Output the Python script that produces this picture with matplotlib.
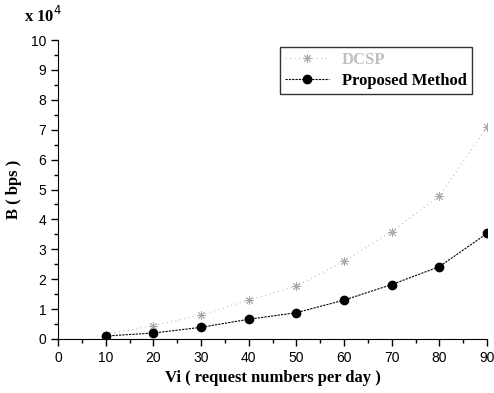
import matplotlib.pyplot as plt
from matplotlib.ticker import MultipleLocator

vi = [10, 20, 30, 40, 50, 60, 70, 80, 90]
dcsp = [0.15, 0.45, 0.8, 1.3, 1.77, 2.6, 3.59, 4.78, 7.09]
proposed = [0.1, 0.2, 0.39, 0.66, 0.88, 1.3, 1.82, 2.42, 3.53]

serif = "Liberation Serif"
sans = "Liberation Sans"

fig = plt.figure(figsize=(4.94, 3.93), dpi=100)
ax = fig.add_axes([58 / 494, 1 - 339 / 393, (487 - 58) / 494, (339 - 40) / 393])

ax.plot(vi, dcsp, color="#bdbdbd", linestyle=(0, (1, 3)), linewidth=0.8,
        marker=(8, 2, 0), markersize=6, markeredgewidth=0.7,
        markeredgecolor="#a8a8a8", label="DCSP")
ax.plot(vi, proposed, color="black", linestyle=(0, (2, 1)), linewidth=0.8,
        marker="o", markersize=6, label="Proposed Method")

ax.set_xlim(0, 90)
ax.set_ylim(0, 10)
ax.xaxis.set_major_locator(MultipleLocator(10))
ax.xaxis.set_minor_locator(MultipleLocator(5))
ax.yaxis.set_major_locator(MultipleLocator(1))
ax.yaxis.set_minor_locator(MultipleLocator(0.5))
ax.spines["top"].set_visible(False)
ax.spines["right"].set_visible(False)
ax.tick_params(which="major", direction="out", length=5, width=1,
               labelsize=10)
ax.tick_params(which="minor", direction="out", length=3, width=1)
for lab in ax.get_xticklabels() + ax.get_yticklabels():
    lab.set_fontfamily(sans)

ax.set_xlabel("Vi ( request numbers per day )", fontfamily=serif,
              fontweight="bold", fontsize=12, labelpad=4)
ax.set_ylabel("B ( bps )", fontfamily=serif, fontweight="bold",
              fontsize=12, labelpad=6)
fig.text(24 / 494, 1 - 16 / 393, r"x 10$^{4}$", fontfamily=serif,
         fontweight="bold", fontsize=12, va="center")

leg = ax.legend(loc="upper right", bbox_to_anchor=(0.965, 0.977),
                borderaxespad=0,
                prop={"family": serif, "weight": "bold", "size": 12},
                frameon=True, fancybox=False, edgecolor="black",
                handlelength=2.6, borderpad=0.3, labelspacing=0.3)
leg.get_frame().set_linewidth(1)
leg.get_texts()[0].set_color("#c0c0c0")

fig.savefig("out.png", dpi=100)
